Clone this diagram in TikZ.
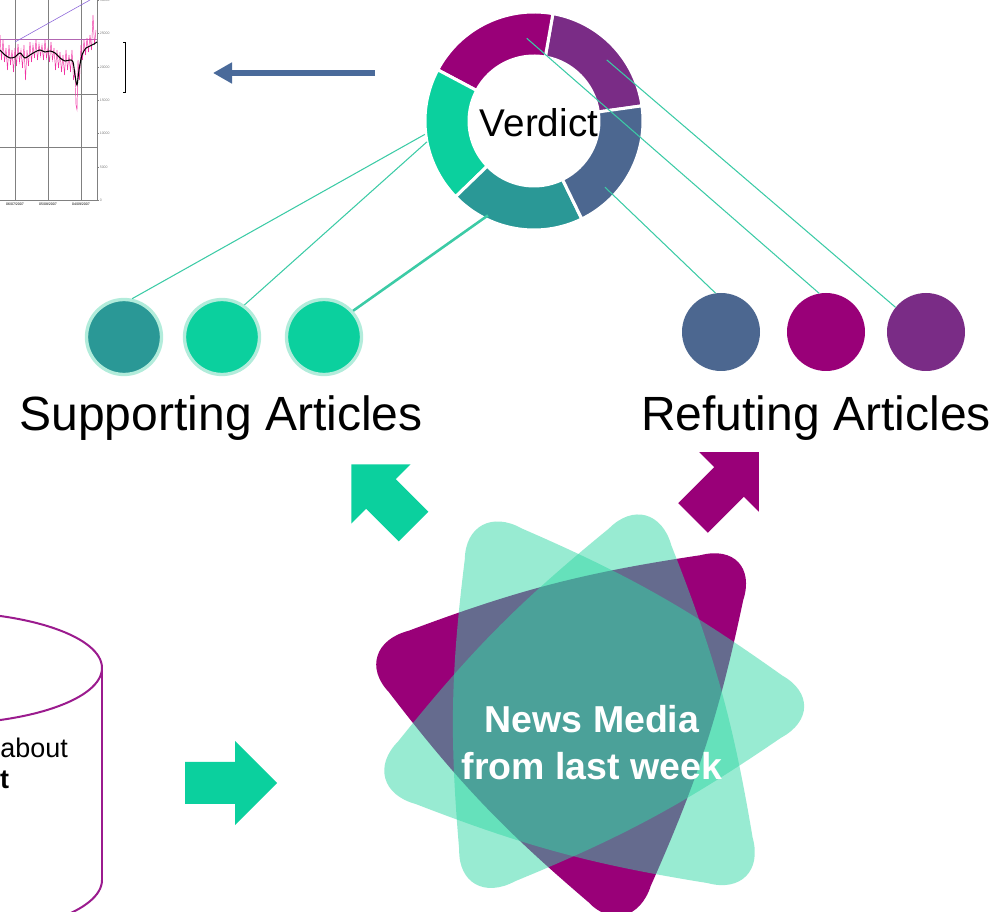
\documentclass[tikz,border=0pt]{standalone}
\usepackage{fontspec}
\setmainfont{Liberation Sans}
\usepackage{tikz}
\usetikzlibrary{arrows.meta,calc,positioning}

\definecolor{vgreen}{HTML}{0BD09E}
\definecolor{vteal}{HTML}{2A9896}
\definecolor{vslate}{HTML}{4C6790}
\definecolor{vmagenta}{HTML}{990078}
\definecolor{vpurple}{HTML}{7A2C86}
\definecolor{halo}{HTML}{B2ECDB}
\definecolor{linkgreen}{HTML}{3CCBA6}
\definecolor{stargreen}{HTML}{32D7A5}
\definecolor{arrowblue}{HTML}{4A6A9A}
\definecolor{cylpurple}{HTML}{9B1B8E}

\begin{document}
\begin{tikzpicture}[x=0.03cm,y=0.03cm,
  art/.style={circle,inner sep=0pt,minimum size=2.34cm},
  pro/.style={circle,inner sep=0pt,minimum size=2.25cm,draw=halo,line width=0.1cm},
  link/.style={linkgreen,line width=0.9pt},
  big/.style={font=\fontsize{41}{49}\selectfont},
  grid/.style={gray,line width=0.4pt},
  tiny/.style={font=\fontsize{3}{3}\selectfont,inner sep=0.5pt}]
\useasboundingbox (0,0) rectangle (999,911);
\clip (0,0) rectangle (999,911);

% chart (cut off on the left)
\draw[grid] (15,711) -- (15,911);
\draw[grid] (48,711) -- (48,911);
\draw[grid] (81,711) -- (81,911);
\draw[grid] (97,711) -- (97,911);
\draw[grid] (0,817) -- (97,817);
\draw[grid] (0,764) -- (97,764);
\draw[grid] (0,711) -- (97,711);
\draw[violet!60,line width=0.4pt] (0,872) -- (97,872);
\foreach \y/\v in {911/30000,878/25000,844/20000,811/15000,778/10000,744/5000,711/0}
  \draw[grid] (97,\y) -- (99,\y) node[right,tiny] {\v};
\node[tiny,below] (d1) at (15,709) {06/07/2007};
\node[tiny,below] (d2) at (48,709) {05/08/2007};
\node[tiny,below] (d3) at (81,709) {04/09/2007};
\draw[blue!50!violet!60,line width=0.5pt] (15,869) -- (90,911);
\draw[line width=0.4pt] (123,869) -- (125,869) -- (125,819) -- (123,819);
\draw[magenta!80,line width=0.4pt] plot coordinates {(0,876) (1.5,851) (3,871) (4.5,849)
  (6,863) (7.5,841) (9,866) (10.5,846) (12,861) (13.5,839) (15,863) (16.5,845) (18,867)
  (19.5,849) (21,861) (22.5,843) (24,866) (25.5,831) (27,861) (28.5,845) (30,869)
  (31.5,849) (33,866) (34.5,853) (36,871) (37.5,851) (39,867) (40.5,855) (42,866)
  (43.5,851) (45,871) (46.5,853) (48,863) (49.5,849) (51,869) (52.5,851) (54,863)
  (55.5,841) (57,861) (58.5,843) (60,859) (61.5,839) (63,856) (64.5,836) (66,861)
  (67.5,841) (69,856) (70.5,839) (72,861) (73.5,831) (75,841) (76,806) (77,801) (78,851)
  (79.5,831) (81,866) (82.5,851) (84,871) (85.5,856) (87,873) (88.5,859) (90,876)
  (91.5,861) (93,896) (94.5,866) (96,881)};
\draw[black,line width=0.9pt] plot[smooth] coordinates {(0,861) (5,856) (10,853) (15,854)
  (20,858) (25,853) (30,856) (35,859) (40,861) (45,859) (50,860) (55,858) (60,853)
  (65,850) (70,851) (73,849) (75,836) (77,826) (79,841) (82,856) (86,863) (90,865)
  (94,867) (97,869)};

% arrow to the chart
\coordinate (from) at (375,838);
\coordinate (to) at (213,838);
\draw[arrowblue,line width=0.18cm,-{Triangle[length=0.57cm,width=0.6cm]}] (from) -- (to);

% verdict ring
\begin{scope}[shift={(534,790)}]
\foreach \a/\b/\c in {8/80/vpurple,80/152/vmagenta,152/224/vgreen,224/296/vteal,296/368/vslate}
  \filldraw[fill=\c,draw=white,line width=0.09cm] (\a:109) arc[start angle=\a,end angle=\b,radius=109]
    -- (\b:65) arc[start angle=\b,end angle=\a,radius=65] -- cycle;
\coordinate (v1) at (187:110);
\coordinate (v2) at (191:109);
\coordinate (v3) at (244:105);
\coordinate (v4) at (317:97);
\coordinate (v5) at (95:83);
\coordinate (v6) at (40:95);
\end{scope}

% articles
\node[pro,fill=vteal] (1) at (124,574) {};
\node[pro,fill=vgreen] (2) at (222,574) {};
\node[pro,fill=vgreen] (3) at (324,574) {};
\node[art,fill=vslate] (4) at (721,579) {};
\node[art,fill=vmagenta] (5) at (826,579) {};
\node[art,fill=vpurple] (6) at (926,579) {};
\draw[link] (v1) -- (1.78);
\draw[link] (v2) -- (2.55);
\draw[link,line width=2.2pt] (v3) -- (3.42);
\draw[link] (v4) -- (4.98);
\draw[link] (v5) -- (5.100);
\draw[link] (v6) -- (6.141);
\node[anchor=base,font=\fontsize{33}{39}\selectfont] (verdict) at (539,774) {Verdict};
\node[big,anchor=base] (sup) at (221,480) {Supporting Articles};
\node[big,anchor=base] (ref) at (816,480) {Refuting Articles};

% block arrows
\fill[vgreen,shift={(413.5,384.5)},rotate=135] (0,-21) -- (46,-21) -- (46,-42) -- (88,0) -- (46,42) -- (46,21) -- (0,21) -- cycle;
\fill[vmagenta,shift={(693,393)},rotate=45] (0,-21) -- (51,-21) -- (51,-42) -- (93,0) -- (51,42) -- (51,21) -- (0,21) -- cycle;
\fill[vgreen,shift={(185,128)}] (0,-21) -- (50,-21) -- (50,-42) -- (92,0) -- (50,42) -- (50,21) -- (0,21) -- cycle;

% news media star
\coordinate (p1) at (346,264);
\coordinate (p2) at (631,-36);
\coordinate (p3) at (763,372);
\coordinate (g1) at (466,414);
\coordinate (g2) at (458,-1);
\coordinate (g3) at (838,204);
\coordinate (h1) at (654,428);
\coordinate (h2) at (353,124);
\coordinate (h3) at (770,11);
\foreach \a/\b/\c/\col/\op in {p1/p2/p3/vmagenta/1,g1/g2/g3/stargreen/0.5,h1/h2/h3/stargreen/0.5}
  \fill[\col,fill opacity=\op] ($(\a)!.15!(\b)$) to[bend right=6] ($(\b)!.15!(\a)$)
    .. controls ($(\b)!.07!(\a)$) and ($(\b)!.07!(\c)$) .. ($(\b)!.15!(\c)$) to[bend right=6] ($(\c)!.15!(\b)$)
    .. controls ($(\c)!.07!(\b)$) and ($(\c)!.07!(\a)$) .. ($(\c)!.15!(\a)$) to[bend right=6] ($(\a)!.15!(\c)$)
    .. controls ($(\a)!.07!(\c)$) and ($(\a)!.07!(\b)$) .. ($(\a)!.15!(\b)$) -- cycle;
\node[white,align=center,font=\bfseries\fontsize{32}{40}\selectfont] (media) at (592,168) {News Media\\from last week};

% database
\draw[cylpurple,line width=1.7pt] (-60,243) ellipse [x radius=162,y radius=56];
\draw[cylpurple,line width=1.7pt] (102,243) -- (102,31) arc[start angle=0,end angle=-90,x radius=162,y radius=56];
\node[anchor=base east,inner sep=0pt,font=\fontsize{23}{28}\selectfont] (about) at (68,153) {about};
\node[anchor=base west,inner sep=0pt,font=\bfseries\fontsize{23}{28}\selectfont] (last) at (0,123) {t};
\end{tikzpicture}
\end{document}
